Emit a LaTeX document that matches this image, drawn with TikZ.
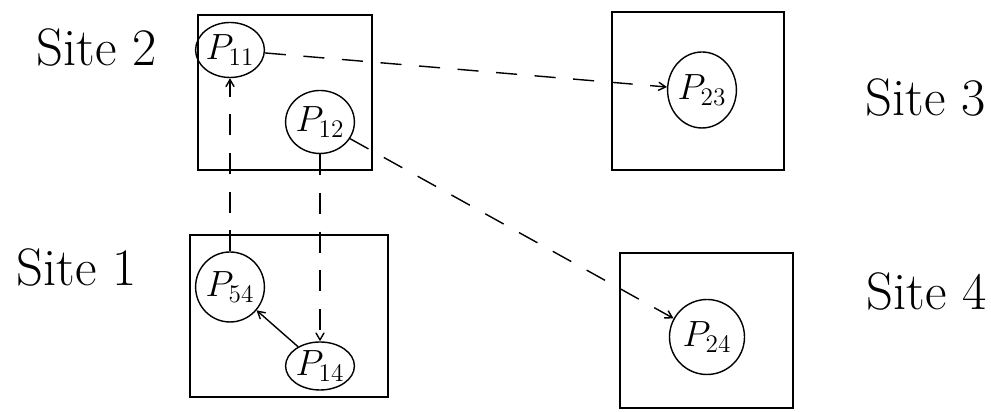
\documentclass[tikz,border=0pt]{standalone}
\usepackage{amsmath}
\usepackage{tikz}
\usetikzlibrary{shapes,arrows}

\begin{document}
\begin{tikzpicture}[thick, >=angle 60,
  site/.style={shape=rectangle, draw, line width=1.2pt},
  proc/.style={shape=ellipse, draw, inner sep=0pt, font=\huge},
  lbl/.style={font=\fontsize{30}{36}\selectfont}]
\useasboundingbox (0,0) rectangle (19.82,8.24);

% sites
\node (s2) at (5.70,6.39) [site, minimum width=3.48cm, minimum height=3.10cm] {};
\node (s1) at (5.78,1.92) [site, minimum width=3.96cm, minimum height=3.24cm] {};
\node (s3) at (13.96,6.42) [site, minimum width=3.44cm, minimum height=3.16cm] {};
\node (s4) at (14.13,1.63) [site, minimum width=3.46cm, minimum height=3.10cm] {};

\node (l2) at (1.94,7.28) [lbl] {Site 2};
\node (l1) at (1.54,2.88) [lbl] {Site 1};
\node (l3) at (18.52,6.28) [lbl] {Site 3};
\node (l4) at (18.54,2.40) [lbl] {Site 4};

% processes
\node (p11) at (4.60,7.24) [proc, minimum width=0.9cm, minimum height=1.1cm] {$P_{11}$};
\node (p12) at (6.40,5.80) [proc, minimum width=1.18cm, minimum height=1.26cm] {$P_{12}$};
\node (p23) at (14.04,6.44) [proc, minimum width=1.36cm, minimum height=1.52cm] {$P_{23}$};
\node (p24) at (14.14,1.50) [proc, minimum width=1.5cm, minimum height=1.5cm] {$P_{24}$};
\node (p54) at (4.60,2.50) [proc, minimum width=1.2cm, minimum height=1.4cm] {$P_{54}$};
\node (p14) at (6.40,0.92) [proc, minimum width=1.16cm, minimum height=0.96cm] {$P_{14}$};

% messages
\draw [->, dashed, dash pattern=on 12pt off 10pt] (p11) -- (p23);
\draw [->, dashed, dash pattern=on 12pt off 10pt] (p12) -- (p24);
\draw [->, dashed, dash pattern=on 12pt off 10pt] (p12) -- (p14);
\draw [->, dashed, dash pattern=on 12pt off 10pt] (p54) -- (p11);
\draw [->] (p14) -- (p54);
\end{tikzpicture}
\end{document}
